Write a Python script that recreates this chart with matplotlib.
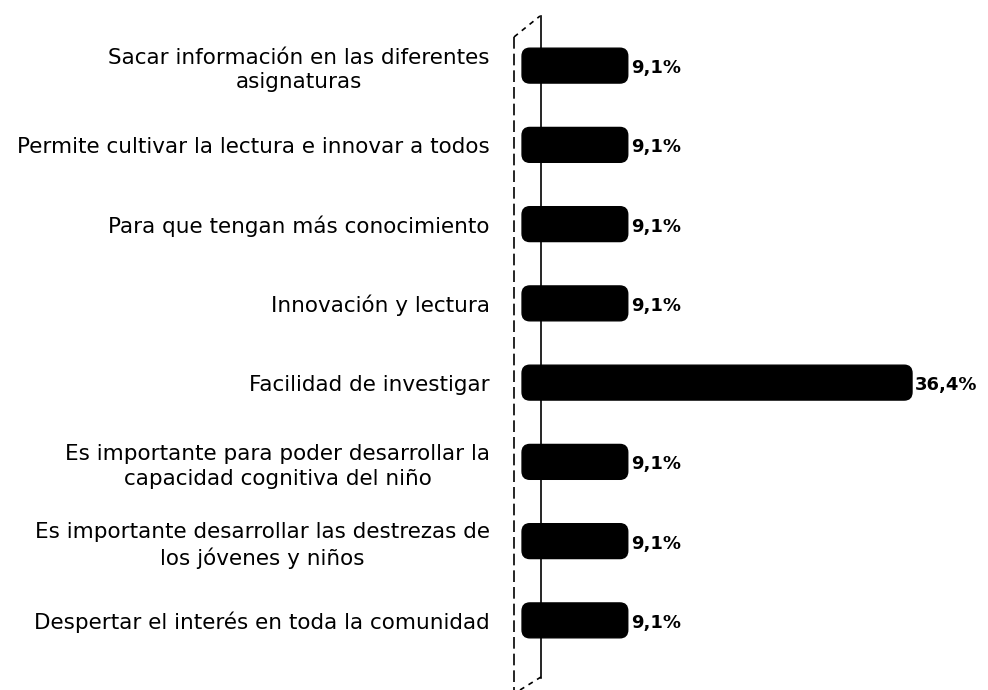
import matplotlib
matplotlib.use("Agg")
import matplotlib.pyplot as plt
from matplotlib.patches import FancyBboxPatch
from matplotlib.lines import Line2D

categories = [
    "Sacar información en las diferentes\nasignaturas",
    "Permite cultivar la lectura e innovar a todos",
    "Para que tengan más conocimiento",
    "Innovación y lectura",
    "Facilidad de investigar",
    "Es importante para poder desarrollar la\ncapacidad cognitiva del niño",
    "Es importante desarrollar las destrezas de\nlos jóvenes y niños",
    "Despertar el interés en toda la comunidad",
]
values = [9.1, 9.1, 9.1, 9.1, 36.4, 9.1, 9.1, 9.1]
value_labels = ["9,1%", "9,1%", "9,1%", "9,1%", "36,4%", "9,1%", "9,1%", "9,1%"]

plt.rcParams['font.family'] = ['DejaVu Sans']

W, H = 988, 690
fig = plt.figure(figsize=(W / 100, H / 100), dpi=100)
x0, x1 = 533, 983
y0, y1 = 26, 660
ax = fig.add_axes([x0 / W, 1 - y1 / H, (x1 - x0) / W, (y1 - y0) / H])

ypos = list(range(len(categories)))
bars = ax.barh(ypos, values, height=0.44, color='black')
xmax = (x1 - x0) / ((912 - 533) / 36.4)
ax.set_xlim(0, xmax)
ax.set_ylim(len(categories) - 0.5, -0.5)

# rounded, slightly extended bar look
ext = 1.05
for b in bars:
    b.set_visible(False)
    bb = b.get_bbox()
    p = FancyBboxPatch((bb.x0 - ext, bb.y0), bb.width + ext, bb.height,
                       boxstyle="round,pad=0,rounding_size=0.75",
                       mutation_aspect=0.135,
                       facecolor='black', edgecolor='black', lw=1,
                       clip_on=False)
    ax.add_patch(p)

for y, v, lab in zip(ypos, values, value_labels):
    ax.text(v + 0.3, y + 0.03, lab, va='center', ha='left', fontsize=13,
            fontweight='bold', color='black')

ax.set_yticks(ypos)
ax.set_yticklabels(categories, fontsize=15.5, linespacing=1.3)
for t in ax.get_yticklabels():
    t.set_multialignment('center')
ax.tick_params(axis='y', length=0, pad=31)
ax.set_xticks([])
for s in ax.spines.values():
    s.set_visible(False)

# faux 3D walls
def fx(px):
    return px / W
def fy(py):
    return 1 - py / H
fig.add_artist(Line2D([fx(514), fx(514)], [fy(37), fy(690)], color='black',
                      lw=1.2, ls=(0, (7, 3))))
fig.add_artist(Line2D([fx(514), fx(540)], [fy(37), fy(16)], color='black',
                      lw=1.2, ls=(0, (3, 3))))
fig.add_artist(Line2D([fx(541), fx(541)], [fy(16), fy(678)], color='black',
                      lw=1.2, zorder=0))
fig.add_artist(Line2D([fx(520), fx(541)], [fy(690), fy(677)], color='black',
                      lw=1.2, ls=(0, (3, 3))))
ax.set_zorder(1)
ax.patch.set_alpha(0)

fig.savefig("out.png", dpi=100)
